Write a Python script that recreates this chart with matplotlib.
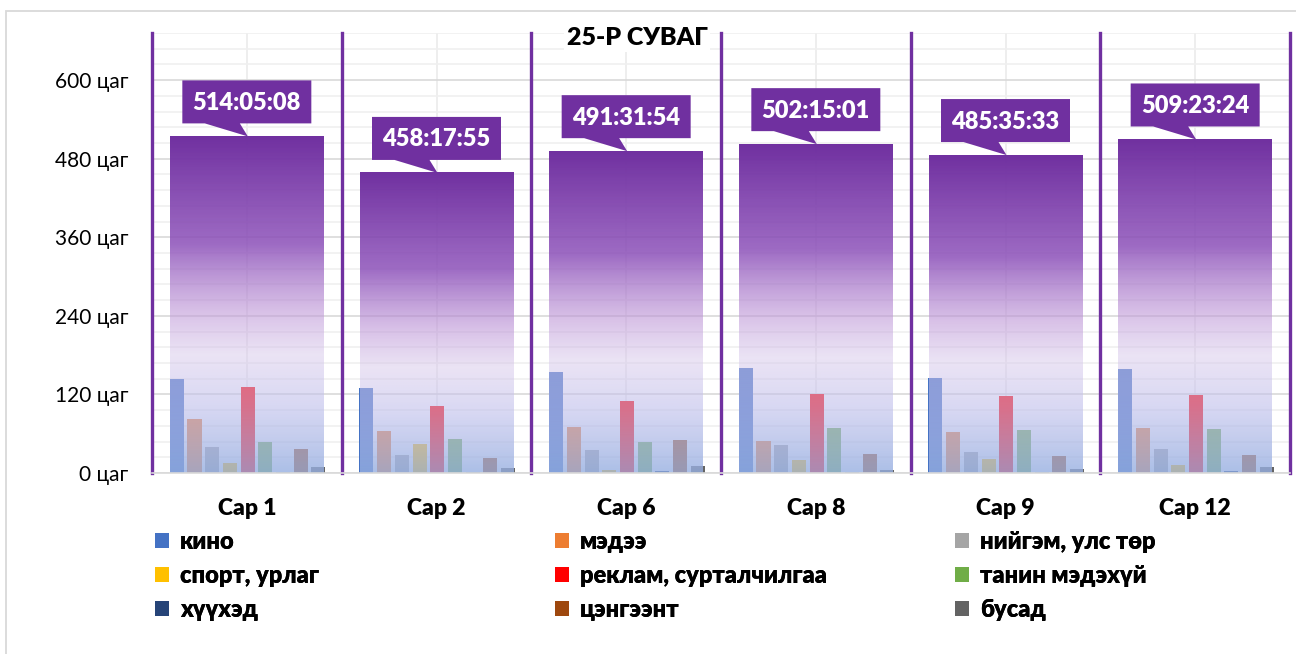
import numpy as np
import matplotlib
matplotlib.use("Agg")
import matplotlib.pyplot as plt
import matplotlib.transforms as mtransforms
from matplotlib.patches import Polygon, Rectangle, Patch

plt.rcParams["font.family"] = ["Lato", "Open Sans", "DejaVu Sans"]

MONTHS = ["Сар 1", "Сар 2", "Сар 6", "Сар 8", "Сар 9", "Сар 12"]
TOTAL_LABELS = ["514:05:08", "458:17:55", "491:31:54", "502:15:01", "485:35:33", "509:23:24"]

GENRES = ["кино", "мэдээ", "нийгэм, улс төр", "спорт, урлаг", "реклам, сурталчилгаа",
          "танин мэдэхүй", "хүүхэд", "цэнгээнт", "бусад"]
GENRE_COLORS = ["#4472C4", "#ED7D31", "#A5A5A5", "#FFC000", "#FF0000",
                "#70AD47", "#264478", "#9E480E", "#636363"]

# hours per genre, one value per month
KINO = [143.5, 129.3, 154.7, 160.8, 145.5, 158.3]
MEDEE = [82.4, 63.6, 70.2, 48.9, 62.1, 68.2]
NIIGEM = [39.7, 27.5, 35.1, 42.7, 32.0, 36.6]
SPORT = [15.3, 44.8, 4.6, 19.3, 20.9, 12.2]
REKLAM = [131.8, 102.8, 109.9, 121.1, 117.6, 118.6]
TANIN = [47.3, 51.9, 46.8, 68.2, 65.6, 67.7]
HUUHED = [2.0, 1.0, 3.0, 1.0, 1.0, 3.0]
TSENGEENT = [36.6, 23.4, 50.4, 29.0, 26.0, 27.5]
BUSAD = [9.7, 8.1, 11.2, 4.6, 6.6, 9.2]
GENRE_VALUES = [KINO, MEDEE, NIIGEM, SPORT, REKLAM, TANIN, HUUHED, TSENGEENT, BUSAD]

Y_TICKS = [0, 120, 240, 360, 480, 600]
Y_MAX = 672

PURPLE = "#7030A0"
BOLD = "heavy"


def hms_to_hours(s):
    h, m, sec = (int(p) for p in s.split(":"))
    return h + m / 60 + sec / 3600


def gradient_rgba(n=300):
    # stops: fraction of bar height from bottom, rgb, alpha
    stops_f = [0.0, 0.20, 0.35, 0.48, 0.68, 1.0]
    stops_rgb = [(150, 175, 225), (190, 190, 235), (215, 200, 235),
                 (190, 150, 215), (140, 80, 185), (112, 48, 160)]
    stops_a = [0.8, 0.6, 0.5, 0.6, 0.85, 1.0]
    f = np.linspace(1, 0, n)
    arr = np.zeros((n, 1, 4))
    for c in range(3):
        arr[:, 0, c] = np.interp(f, stops_f, [s[c] / 255 for s in stops_rgb])
    arr[:, 0, 3] = np.interp(f, stops_f, stops_a)
    return arr


totals = [hms_to_hours(s) for s in TOTAL_LABELS]
x = np.arange(len(MONTHS))

fig = plt.figure(figsize=(12.96, 6.54), dpi=100)
ax = fig.add_axes([152 / 1296, 1 - 473 / 654, (1290 - 152) / 1296, (473 - 33) / 654])

# small genre bars
slot = 0.0933
small_w = 0.074
for i, (vals, col) in enumerate(zip(GENRE_VALUES, GENRE_COLORS)):
    ax.bar(x + (i - 4) * slot + 0.004, vals, width=small_w, color=col, zorder=2)

# big gradient total bars on top
grad = gradient_rgba()
big_w = 0.81
for xi, h in zip(x, totals):
    ax.imshow(grad, extent=[xi - big_w / 2, xi + big_w / 2, 0, h],
              aspect="auto", interpolation="bilinear", zorder=3)

# callout labels
for xi, h, lab in zip(x, totals, TOTAL_LABELS):
    trans = fig.dpi_scale_trans + mtransforms.ScaledTranslation(xi, h, ax.transData)
    gap, bh, bw = 13, 43, 129
    verts = np.array([
        (-bw / 2, gap), (-42, gap), (1, 0), (-7, gap), (bw / 2, gap),
        (bw / 2, gap + bh), (-bw / 2, gap + bh)
    ]) / 100.0
    ax.add_patch(Polygon(verts, closed=True, facecolor=PURPLE, edgecolor="none",
                         transform=trans, zorder=5, clip_on=False))
    ax.annotate(lab, xy=(xi, h), xytext=(0, gap + bh / 2 - 1), textcoords="offset pixels",
                ha="center", va="center", color="white", fontsize=17,
                fontweight=BOLD, zorder=6)

ax.set_xlim(-0.5, len(MONTHS) - 0.5)
ax.set_ylim(0, Y_MAX)

ax.set_yticks(Y_TICKS)
ax.set_yticklabels([f"{v} цаг" for v in Y_TICKS])
ax.set_yticks(np.arange(0, Y_MAX + 1, 24), minor=True)
ax.set_xticks(x)
ax.set_xticklabels(MONTHS, fontweight=BOLD)

ax.tick_params(axis="y", which="both", length=0, pad=17, labelsize=15)
ax.tick_params(axis="x", which="both", length=0, pad=18, labelsize=16.5)

ax.set_axisbelow(True)
ax.grid(axis="y", which="major", color="#D9D9D9", lw=1.2)
ax.grid(axis="y", which="minor", color="#F0F0F0", lw=1.2)
ax.grid(axis="x", which="major", color="#EBEBEB", lw=1.2)
for b in np.arange(-0.5, len(MONTHS)):
    ax.axvline(b, color=PURPLE, lw=2.4, zorder=1.5, clip_on=False)

for s in ["top", "left", "right"]:
    ax.spines[s].set_visible(False)
ax.spines["bottom"].set_color("#D9D9D9")
ax.spines["bottom"].set_linewidth(1.2)
ax.spines["bottom"].set_zorder(4)

fig.text(637 / 1296, 1 - 38 / 654, "25-Р СУВАГ", ha="center", va="center",
         fontsize=18, fontweight=BOLD, zorder=10,
         bbox=dict(facecolor="white", edgecolor="none", pad=2))

# legend in three columns, row-major order like the original
handles = [Patch(facecolor=c) for c in GENRE_COLORS]
col_x = [155 / 1296, 555 / 1296, 955 / 1296]
for ci in range(3):
    idx = [ci, ci + 3, ci + 6]
    leg = fig.legend([handles[k] for k in idx], [GENRES[k] for k in idx],
                     loc="upper left", bbox_to_anchor=(col_x[ci], 1 - 531 / 654),
                     bbox_transform=fig.transFigure, frameon=False,
                     handlelength=0.6, handleheight=0.6, handletextpad=0.45,
                     labelspacing=0.5, borderpad=0, borderaxespad=0,
                     prop=dict(size=17, weight=BOLD))
    fig.add_artist(leg)

fig.add_artist(Rectangle((6 / 1296, -0.05), 1.2, 1.05 - 10.5 / 654, fill=False,
                         edgecolor="#D9D9D9", lw=1.3, transform=fig.transFigure))

fig.savefig("out.png", dpi=100)
